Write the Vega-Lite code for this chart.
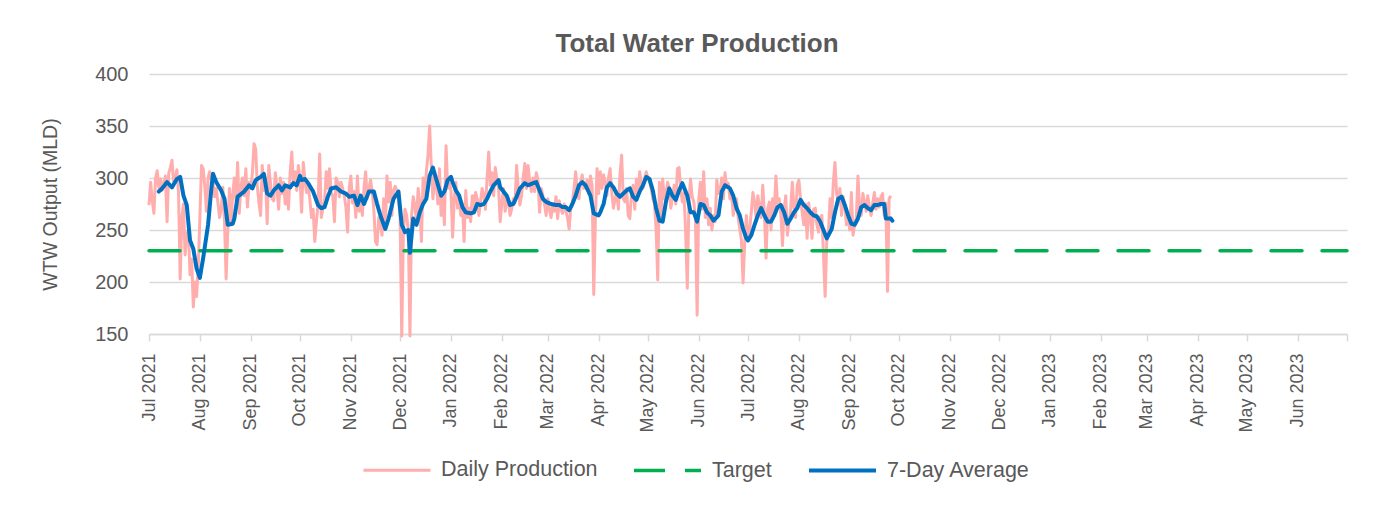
{
"$schema": "https://vega.github.io/schema/vega-lite/v6.json",
"width": 1198,
"height": 260,
"autosize": {"type": "none"},
"padding": {"left": 149, "top": 74, "right": 47, "bottom": 172},
"background": "white",
"title": {"text": "Total Water Production", "anchor": "middle", "frame": "group", "dx": -51, "offset": 7, "fontSize": 26, "font": "Liberation Sans", "fontWeight": "bold", "color": "#595959"},
"config": {
  "view": {"stroke": null},
  "font": "Liberation Sans",
  "axis": {"labelColor": "#595959", "titleColor": "#595959", "labelFont": "Liberation Sans", "titleFont": "Liberation Sans", "titleFontWeight": "normal"},
  "legend": {"orient": "none", "legendX": 213, "legendY": 361, "direction": "horizontal", "symbolType": "stroke", "symbolSize": 4489, "labelFontSize": 21.5, "labelColor": "#595959", "labelFont": "Liberation Sans", "labelLimit": 0, "columnPadding": 29, "labelOffset": 9}
},
"datasets": {
"target": [{"date": "2021-07-01", "mld": 230}, {"date": "2023-07-01", "mld": 230}],
"daily": [
{"date":"2021-07-01","mld":274},{"date":"2021-07-02","mld":296},{"date":"2021-07-03","mld":278},{"date":"2021-07-04","mld":266},{"date":"2021-07-05","mld":300},{"date":"2021-07-06","mld":307},{"date":"2021-07-07","mld":290},{"date":"2021-07-08","mld":299},{"date":"2021-07-09","mld":288},{"date":"2021-07-10","mld":295},{"date":"2021-07-11","mld":302},{"date":"2021-07-12","mld":258},{"date":"2021-07-13","mld":304},{"date":"2021-07-14","mld":310},{"date":"2021-07-15","mld":317},{"date":"2021-07-16","mld":296},{"date":"2021-07-17","mld":300},{"date":"2021-07-18","mld":308},{"date":"2021-07-19","mld":285},{"date":"2021-07-20","mld":203},{"date":"2021-07-21","mld":262},{"date":"2021-07-22","mld":275},{"date":"2021-07-23","mld":226},{"date":"2021-07-24","mld":245},{"date":"2021-07-25","mld":250},{"date":"2021-07-26","mld":207},{"date":"2021-07-27","mld":222},{"date":"2021-07-28","mld":176},{"date":"2021-07-29","mld":200},{"date":"2021-07-30","mld":186},{"date":"2021-07-31","mld":215},
{"date":"2021-08-01","mld":262},{"date":"2021-08-02","mld":312},{"date":"2021-08-03","mld":309},{"date":"2021-08-04","mld":292},{"date":"2021-08-05","mld":268},{"date":"2021-08-06","mld":300},{"date":"2021-08-07","mld":306},{"date":"2021-08-08","mld":298},{"date":"2021-08-09","mld":296},{"date":"2021-08-10","mld":282},{"date":"2021-08-11","mld":290},{"date":"2021-08-12","mld":276},{"date":"2021-08-13","mld":262},{"date":"2021-08-14","mld":270},{"date":"2021-08-15","mld":291},{"date":"2021-08-16","mld":258},{"date":"2021-08-17","mld":203},{"date":"2021-08-18","mld":248},{"date":"2021-08-19","mld":290},{"date":"2021-08-20","mld":256},{"date":"2021-08-21","mld":284},{"date":"2021-08-22","mld":300},{"date":"2021-08-23","mld":278},{"date":"2021-08-24","mld":315},{"date":"2021-08-25","mld":266},{"date":"2021-08-26","mld":292},{"date":"2021-08-27","mld":300},{"date":"2021-08-28","mld":283},{"date":"2021-08-29","mld":309},{"date":"2021-08-30","mld":272},{"date":"2021-08-31","mld":296},
{"date":"2021-09-01","mld":290},{"date":"2021-09-02","mld":305},{"date":"2021-09-03","mld":333},{"date":"2021-09-04","mld":328},{"date":"2021-09-05","mld":292},{"date":"2021-09-06","mld":276},{"date":"2021-09-07","mld":264},{"date":"2021-09-08","mld":312},{"date":"2021-09-09","mld":288},{"date":"2021-09-10","mld":300},{"date":"2021-09-11","mld":256},{"date":"2021-09-12","mld":312},{"date":"2021-09-13","mld":295},{"date":"2021-09-14","mld":280},{"date":"2021-09-15","mld":278},{"date":"2021-09-16","mld":305},{"date":"2021-09-17","mld":290},{"date":"2021-09-18","mld":270},{"date":"2021-09-19","mld":300},{"date":"2021-09-20","mld":285},{"date":"2021-09-21","mld":296},{"date":"2021-09-22","mld":275},{"date":"2021-09-23","mld":290},{"date":"2021-09-24","mld":270},{"date":"2021-09-25","mld":305},{"date":"2021-09-26","mld":325},{"date":"2021-09-27","mld":295},{"date":"2021-09-28","mld":306},{"date":"2021-09-29","mld":288},{"date":"2021-09-30","mld":312},
{"date":"2021-10-01","mld":300},{"date":"2021-10-02","mld":267},{"date":"2021-10-03","mld":315},{"date":"2021-10-04","mld":298},{"date":"2021-10-05","mld":286},{"date":"2021-10-06","mld":292},{"date":"2021-10-07","mld":280},{"date":"2021-10-08","mld":262},{"date":"2021-10-09","mld":270},{"date":"2021-10-10","mld":239},{"date":"2021-10-11","mld":258},{"date":"2021-10-12","mld":275},{"date":"2021-10-13","mld":323},{"date":"2021-10-14","mld":262},{"date":"2021-10-15","mld":271},{"date":"2021-10-16","mld":278},{"date":"2021-10-17","mld":306},{"date":"2021-10-18","mld":290},{"date":"2021-10-19","mld":309},{"date":"2021-10-20","mld":286},{"date":"2021-10-21","mld":283},{"date":"2021-10-22","mld":258},{"date":"2021-10-23","mld":300},{"date":"2021-10-24","mld":296},{"date":"2021-10-25","mld":282},{"date":"2021-10-26","mld":296},{"date":"2021-10-27","mld":290},{"date":"2021-10-28","mld":283},{"date":"2021-10-29","mld":272},{"date":"2021-10-30","mld":248},{"date":"2021-10-31","mld":290},
{"date":"2021-11-01","mld":302},{"date":"2021-11-02","mld":276},{"date":"2021-11-03","mld":287},{"date":"2021-11-04","mld":262},{"date":"2021-11-05","mld":302},{"date":"2021-11-06","mld":268},{"date":"2021-11-07","mld":280},{"date":"2021-11-08","mld":264},{"date":"2021-11-09","mld":290},{"date":"2021-11-10","mld":306},{"date":"2021-11-11","mld":280},{"date":"2021-11-12","mld":290},{"date":"2021-11-13","mld":298},{"date":"2021-11-14","mld":287},{"date":"2021-11-15","mld":270},{"date":"2021-11-16","mld":239},{"date":"2021-11-17","mld":236},{"date":"2021-11-18","mld":262},{"date":"2021-11-19","mld":258},{"date":"2021-11-20","mld":245},{"date":"2021-11-21","mld":280},{"date":"2021-11-22","mld":252},{"date":"2021-11-23","mld":302},{"date":"2021-11-24","mld":277},{"date":"2021-11-25","mld":296},{"date":"2021-11-26","mld":264},{"date":"2021-11-27","mld":288},{"date":"2021-11-28","mld":292},{"date":"2021-11-29","mld":288},{"date":"2021-11-30","mld":280},
{"date":"2021-12-01","mld":262},{"date":"2021-12-02","mld":148},{"date":"2021-12-03","mld":248},{"date":"2021-12-04","mld":270},{"date":"2021-12-05","mld":264},{"date":"2021-12-06","mld":250},{"date":"2021-12-07","mld":148},{"date":"2021-12-08","mld":264},{"date":"2021-12-09","mld":282},{"date":"2021-12-10","mld":274},{"date":"2021-12-11","mld":258},{"date":"2021-12-12","mld":290},{"date":"2021-12-13","mld":276},{"date":"2021-12-14","mld":239},{"date":"2021-12-15","mld":300},{"date":"2021-12-16","mld":280},{"date":"2021-12-17","mld":306},{"date":"2021-12-18","mld":322},{"date":"2021-12-19","mld":350},{"date":"2021-12-20","mld":312},{"date":"2021-12-21","mld":280},{"date":"2021-12-22","mld":300},{"date":"2021-12-23","mld":296},{"date":"2021-12-24","mld":275},{"date":"2021-12-25","mld":309},{"date":"2021-12-26","mld":264},{"date":"2021-12-27","mld":282},{"date":"2021-12-28","mld":255},{"date":"2021-12-29","mld":331},{"date":"2021-12-30","mld":290},{"date":"2021-12-31","mld":296},
{"date":"2022-01-01","mld":288},{"date":"2022-01-02","mld":243},{"date":"2022-01-03","mld":280},{"date":"2022-01-04","mld":296},{"date":"2022-01-05","mld":271},{"date":"2022-01-06","mld":282},{"date":"2022-01-07","mld":264},{"date":"2022-01-08","mld":275},{"date":"2022-01-09","mld":239},{"date":"2022-01-10","mld":288},{"date":"2022-01-11","mld":262},{"date":"2022-01-12","mld":271},{"date":"2022-01-13","mld":258},{"date":"2022-01-14","mld":283},{"date":"2022-01-15","mld":270},{"date":"2022-01-16","mld":286},{"date":"2022-01-17","mld":280},{"date":"2022-01-18","mld":264},{"date":"2022-01-19","mld":277},{"date":"2022-01-20","mld":290},{"date":"2022-01-21","mld":283},{"date":"2022-01-22","mld":270},{"date":"2022-01-23","mld":300},{"date":"2022-01-24","mld":325},{"date":"2022-01-25","mld":293},{"date":"2022-01-26","mld":305},{"date":"2022-01-27","mld":283},{"date":"2022-01-28","mld":310},{"date":"2022-01-29","mld":299},{"date":"2022-01-30","mld":290},{"date":"2022-01-31","mld":258},
{"date":"2022-02-01","mld":276},{"date":"2022-02-02","mld":290},{"date":"2022-02-03","mld":268},{"date":"2022-02-04","mld":277},{"date":"2022-02-05","mld":280},{"date":"2022-02-06","mld":264},{"date":"2022-02-07","mld":270},{"date":"2022-02-08","mld":280},{"date":"2022-02-09","mld":276},{"date":"2022-02-10","mld":312},{"date":"2022-02-11","mld":290},{"date":"2022-02-12","mld":274},{"date":"2022-02-13","mld":283},{"date":"2022-02-14","mld":300},{"date":"2022-02-15","mld":314},{"date":"2022-02-16","mld":290},{"date":"2022-02-17","mld":312},{"date":"2022-02-18","mld":296},{"date":"2022-02-19","mld":287},{"date":"2022-02-20","mld":300},{"date":"2022-02-21","mld":287},{"date":"2022-02-22","mld":305},{"date":"2022-02-23","mld":298},{"date":"2022-02-24","mld":267},{"date":"2022-02-25","mld":290},{"date":"2022-02-26","mld":283},{"date":"2022-02-27","mld":275},{"date":"2022-02-28","mld":264},
{"date":"2022-03-01","mld":280},{"date":"2022-03-02","mld":270},{"date":"2022-03-03","mld":262},{"date":"2022-03-04","mld":274},{"date":"2022-03-05","mld":268},{"date":"2022-03-06","mld":282},{"date":"2022-03-07","mld":261},{"date":"2022-03-08","mld":278},{"date":"2022-03-09","mld":270},{"date":"2022-03-10","mld":266},{"date":"2022-03-11","mld":275},{"date":"2022-03-12","mld":268},{"date":"2022-03-13","mld":262},{"date":"2022-03-14","mld":251},{"date":"2022-03-15","mld":272},{"date":"2022-03-16","mld":277},{"date":"2022-03-17","mld":290},{"date":"2022-03-18","mld":306},{"date":"2022-03-19","mld":285},{"date":"2022-03-20","mld":280},{"date":"2022-03-21","mld":296},{"date":"2022-03-22","mld":303},{"date":"2022-03-23","mld":290},{"date":"2022-03-24","mld":292},{"date":"2022-03-25","mld":298},{"date":"2022-03-26","mld":285},{"date":"2022-03-27","mld":302},{"date":"2022-03-28","mld":293},{"date":"2022-03-29","mld":188},{"date":"2022-03-30","mld":260},{"date":"2022-03-31","mld":309},
{"date":"2022-04-01","mld":285},{"date":"2022-04-02","mld":306},{"date":"2022-04-03","mld":290},{"date":"2022-04-04","mld":303},{"date":"2022-04-05","mld":296},{"date":"2022-04-06","mld":283},{"date":"2022-04-07","mld":300},{"date":"2022-04-08","mld":309},{"date":"2022-04-09","mld":286},{"date":"2022-04-10","mld":271},{"date":"2022-04-11","mld":280},{"date":"2022-04-12","mld":287},{"date":"2022-04-13","mld":270},{"date":"2022-04-14","mld":303},{"date":"2022-04-15","mld":322},{"date":"2022-04-16","mld":280},{"date":"2022-04-17","mld":277},{"date":"2022-04-18","mld":290},{"date":"2022-04-19","mld":264},{"date":"2022-04-20","mld":261},{"date":"2022-04-21","mld":285},{"date":"2022-04-22","mld":293},{"date":"2022-04-23","mld":270},{"date":"2022-04-24","mld":299},{"date":"2022-04-25","mld":285},{"date":"2022-04-26","mld":306},{"date":"2022-04-27","mld":295},{"date":"2022-04-28","mld":290},{"date":"2022-04-29","mld":300},{"date":"2022-04-30","mld":306},
{"date":"2022-05-01","mld":300},{"date":"2022-05-02","mld":296},{"date":"2022-05-03","mld":290},{"date":"2022-05-04","mld":280},{"date":"2022-05-05","mld":275},{"date":"2022-05-06","mld":251},{"date":"2022-05-07","mld":202},{"date":"2022-05-08","mld":296},{"date":"2022-05-09","mld":262},{"date":"2022-05-10","mld":299},{"date":"2022-05-11","mld":280},{"date":"2022-05-12","mld":285},{"date":"2022-05-13","mld":296},{"date":"2022-05-14","mld":290},{"date":"2022-05-15","mld":271},{"date":"2022-05-16","mld":282},{"date":"2022-05-17","mld":293},{"date":"2022-05-18","mld":275},{"date":"2022-05-19","mld":309},{"date":"2022-05-20","mld":310},{"date":"2022-05-21","mld":290},{"date":"2022-05-22","mld":277},{"date":"2022-05-23","mld":285},{"date":"2022-05-24","mld":248},{"date":"2022-05-25","mld":194},{"date":"2022-05-26","mld":277},{"date":"2022-05-27","mld":299},{"date":"2022-05-28","mld":282},{"date":"2022-05-29","mld":277},{"date":"2022-05-30","mld":260},{"date":"2022-05-31","mld":168},
{"date":"2022-06-01","mld":280},{"date":"2022-06-02","mld":296},{"date":"2022-06-03","mld":270},{"date":"2022-06-04","mld":306},{"date":"2022-06-05","mld":262},{"date":"2022-06-06","mld":280},{"date":"2022-06-07","mld":255},{"date":"2022-06-08","mld":271},{"date":"2022-06-09","mld":250},{"date":"2022-06-10","mld":264},{"date":"2022-06-11","mld":258},{"date":"2022-06-12","mld":298},{"date":"2022-06-13","mld":285},{"date":"2022-06-14","mld":287},{"date":"2022-06-15","mld":300},{"date":"2022-06-16","mld":280},{"date":"2022-06-17","mld":305},{"date":"2022-06-18","mld":291},{"date":"2022-06-19","mld":295},{"date":"2022-06-20","mld":280},{"date":"2022-06-21","mld":285},{"date":"2022-06-22","mld":264},{"date":"2022-06-23","mld":272},{"date":"2022-06-24","mld":280},{"date":"2022-06-25","mld":262},{"date":"2022-06-26","mld":251},{"date":"2022-06-27","mld":240},{"date":"2022-06-28","mld":199},{"date":"2022-06-29","mld":238},{"date":"2022-06-30","mld":264},
{"date":"2022-07-01","mld":241},{"date":"2022-07-02","mld":250},{"date":"2022-07-03","mld":267},{"date":"2022-07-04","mld":286},{"date":"2022-07-05","mld":277},{"date":"2022-07-06","mld":260},{"date":"2022-07-07","mld":283},{"date":"2022-07-08","mld":271},{"date":"2022-07-09","mld":262},{"date":"2022-07-10","mld":293},{"date":"2022-07-11","mld":265},{"date":"2022-07-12","mld":223},{"date":"2022-07-13","mld":270},{"date":"2022-07-14","mld":277},{"date":"2022-07-15","mld":250},{"date":"2022-07-16","mld":280},{"date":"2022-07-17","mld":268},{"date":"2022-07-18","mld":302},{"date":"2022-07-19","mld":275},{"date":"2022-07-20","mld":280},{"date":"2022-07-21","mld":266},{"date":"2022-07-22","mld":235},{"date":"2022-07-23","mld":270},{"date":"2022-07-24","mld":283},{"date":"2022-07-25","mld":245},{"date":"2022-07-26","mld":258},{"date":"2022-07-27","mld":270},{"date":"2022-07-28","mld":296},{"date":"2022-07-29","mld":271},{"date":"2022-07-30","mld":262},{"date":"2022-07-31","mld":293},
{"date":"2022-08-01","mld":298},{"date":"2022-08-02","mld":280},{"date":"2022-08-03","mld":267},{"date":"2022-08-04","mld":255},{"date":"2022-08-05","mld":275},{"date":"2022-08-06","mld":242},{"date":"2022-08-07","mld":276},{"date":"2022-08-08","mld":262},{"date":"2022-08-09","mld":242},{"date":"2022-08-10","mld":270},{"date":"2022-08-11","mld":271},{"date":"2022-08-12","mld":255},{"date":"2022-08-13","mld":248},{"date":"2022-08-14","mld":262},{"date":"2022-08-15","mld":264},{"date":"2022-08-16","mld":226},{"date":"2022-08-17","mld":186},{"date":"2022-08-18","mld":240},{"date":"2022-08-19","mld":248},{"date":"2022-08-20","mld":280},{"date":"2022-08-21","mld":262},{"date":"2022-08-22","mld":296},{"date":"2022-08-23","mld":315},{"date":"2022-08-24","mld":285},{"date":"2022-08-25","mld":277},{"date":"2022-08-26","mld":290},{"date":"2022-08-27","mld":264},{"date":"2022-08-28","mld":282},{"date":"2022-08-29","mld":274},{"date":"2022-08-30","mld":255},{"date":"2022-08-31","mld":264},
{"date":"2022-09-01","mld":250},{"date":"2022-09-02","mld":286},{"date":"2022-09-03","mld":245},{"date":"2022-09-04","mld":255},{"date":"2022-09-05","mld":262},{"date":"2022-09-06","mld":302},{"date":"2022-09-07","mld":270},{"date":"2022-09-08","mld":264},{"date":"2022-09-09","mld":285},{"date":"2022-09-10","mld":277},{"date":"2022-09-11","mld":268},{"date":"2022-09-12","mld":283},{"date":"2022-09-13","mld":272},{"date":"2022-09-14","mld":264},{"date":"2022-09-15","mld":276},{"date":"2022-09-16","mld":286},{"date":"2022-09-17","mld":270},{"date":"2022-09-18","mld":280},{"date":"2022-09-19","mld":272},{"date":"2022-09-20","mld":282},{"date":"2022-09-21","mld":285},{"date":"2022-09-22","mld":264},{"date":"2022-09-23","mld":276},{"date":"2022-09-24","mld":191},{"date":"2022-09-25","mld":280},{"date":"2022-09-26","mld":283}
],
"avg": [
{"date":"2021-07-07","mld":287},{"date":"2021-07-09","mld":290},{"date":"2021-07-12","mld":296},{"date":"2021-07-15","mld":291},{"date":"2021-07-18","mld":299},{"date":"2021-07-20","mld":301},{"date":"2021-07-22","mld":283},{"date":"2021-07-24","mld":274},{"date":"2021-07-26","mld":240},{"date":"2021-07-28","mld":232},{"date":"2021-07-30","mld":213},{"date":"2021-08-01","mld":204},{"date":"2021-08-03","mld":223},{"date":"2021-08-06","mld":255},{"date":"2021-08-08","mld":290},{"date":"2021-08-09","mld":304},{"date":"2021-08-11","mld":296},{"date":"2021-08-14","mld":288},{"date":"2021-08-16","mld":280},{"date":"2021-08-18","mld":255},{"date":"2021-08-21","mld":256},{"date":"2021-08-22","mld":261},{"date":"2021-08-24","mld":282},{"date":"2021-08-28","mld":287},{"date":"2021-08-31","mld":293},
{"date":"2021-09-02","mld":290},{"date":"2021-09-04","mld":298},{"date":"2021-09-07","mld":301},{"date":"2021-09-09","mld":304},{"date":"2021-09-11","mld":285},{"date":"2021-09-13","mld":283},{"date":"2021-09-15","mld":288},{"date":"2021-09-18","mld":293},{"date":"2021-09-20","mld":288},{"date":"2021-09-22","mld":293},{"date":"2021-09-25","mld":291},{"date":"2021-09-27","mld":295},{"date":"2021-09-29","mld":293},
{"date":"2021-10-01","mld":302},{"date":"2021-10-02","mld":298},{"date":"2021-10-04","mld":299},{"date":"2021-10-06","mld":295},{"date":"2021-10-09","mld":287},{"date":"2021-10-12","mld":274},{"date":"2021-10-14","mld":271},{"date":"2021-10-16","mld":272},{"date":"2021-10-18","mld":282},{"date":"2021-10-20","mld":290},{"date":"2021-10-23","mld":291},{"date":"2021-10-26","mld":287},{"date":"2021-10-29","mld":285},{"date":"2021-10-31","mld":282},
{"date":"2021-11-03","mld":283},{"date":"2021-11-05","mld":274},{"date":"2021-11-07","mld":283},{"date":"2021-11-09","mld":275},{"date":"2021-11-12","mld":287},{"date":"2021-11-15","mld":287},{"date":"2021-11-17","mld":275},{"date":"2021-11-19","mld":264},{"date":"2021-11-22","mld":251},{"date":"2021-11-24","mld":261},{"date":"2021-11-27","mld":280},{"date":"2021-11-30","mld":287},
{"date":"2021-12-02","mld":255},{"date":"2021-12-04","mld":248},{"date":"2021-12-06","mld":250},{"date":"2021-12-07","mld":228},{"date":"2021-12-09","mld":261},{"date":"2021-12-11","mld":255},{"date":"2021-12-13","mld":267},{"date":"2021-12-15","mld":275},{"date":"2021-12-17","mld":280},{"date":"2021-12-19","mld":302},{"date":"2021-12-21","mld":310},{"date":"2021-12-23","mld":299},{"date":"2021-12-26","mld":283},{"date":"2021-12-28","mld":287},{"date":"2021-12-30","mld":298},
{"date":"2022-01-01","mld":301},{"date":"2022-01-02","mld":296},{"date":"2022-01-04","mld":288},{"date":"2022-01-06","mld":283},{"date":"2022-01-08","mld":272},{"date":"2022-01-10","mld":267},{"date":"2022-01-13","mld":266},{"date":"2022-01-15","mld":267},{"date":"2022-01-17","mld":275},{"date":"2022-01-19","mld":274},{"date":"2022-01-21","mld":275},{"date":"2022-01-23","mld":280},{"date":"2022-01-25","mld":287},{"date":"2022-01-27","mld":293},{"date":"2022-01-30","mld":298},{"date":"2022-01-31","mld":291},
{"date":"2022-02-02","mld":287},{"date":"2022-02-04","mld":283},{"date":"2022-02-06","mld":274},{"date":"2022-02-08","mld":275},{"date":"2022-02-10","mld":282},{"date":"2022-02-12","mld":290},{"date":"2022-02-15","mld":295},{"date":"2022-02-17","mld":293},{"date":"2022-02-20","mld":295},{"date":"2022-02-22","mld":296},{"date":"2022-02-24","mld":288},{"date":"2022-02-26","mld":280},{"date":"2022-02-28","mld":277},
{"date":"2022-03-03","mld":275},{"date":"2022-03-06","mld":274},{"date":"2022-03-08","mld":274},{"date":"2022-03-10","mld":272},{"date":"2022-03-12","mld":272},{"date":"2022-03-14","mld":269},{"date":"2022-03-16","mld":275},{"date":"2022-03-18","mld":283},{"date":"2022-03-20","mld":293},{"date":"2022-03-22","mld":296},{"date":"2022-03-24","mld":293},{"date":"2022-03-27","mld":283},{"date":"2022-03-29","mld":266},
{"date":"2022-04-01","mld":264},{"date":"2022-04-02","mld":267},{"date":"2022-04-04","mld":275},{"date":"2022-04-06","mld":291},{"date":"2022-04-08","mld":295},{"date":"2022-04-10","mld":291},{"date":"2022-04-12","mld":285},{"date":"2022-04-14","mld":282},{"date":"2022-04-16","mld":285},{"date":"2022-04-18","mld":288},{"date":"2022-04-20","mld":290},{"date":"2022-04-22","mld":282},{"date":"2022-04-24","mld":279},{"date":"2022-04-26","mld":287},{"date":"2022-04-28","mld":293},{"date":"2022-04-30","mld":301},
{"date":"2022-05-02","mld":299},{"date":"2022-05-04","mld":288},{"date":"2022-05-06","mld":271},{"date":"2022-05-08","mld":259},{"date":"2022-05-10","mld":258},{"date":"2022-05-12","mld":277},{"date":"2022-05-14","mld":290},{"date":"2022-05-16","mld":283},{"date":"2022-05-18","mld":279},{"date":"2022-05-20","mld":288},{"date":"2022-05-22","mld":295},{"date":"2022-05-25","mld":283},{"date":"2022-05-27","mld":267},{"date":"2022-05-29","mld":267},{"date":"2022-05-31","mld":258},
{"date":"2022-06-02","mld":275},{"date":"2022-06-04","mld":274},{"date":"2022-06-06","mld":267},{"date":"2022-06-08","mld":264},{"date":"2022-06-10","mld":259},{"date":"2022-06-13","mld":264},{"date":"2022-06-15","mld":287},{"date":"2022-06-17","mld":293},{"date":"2022-06-20","mld":290},{"date":"2022-06-22","mld":283},{"date":"2022-06-24","mld":271},{"date":"2022-06-26","mld":264},{"date":"2022-06-28","mld":251},{"date":"2022-06-30","mld":242},
{"date":"2022-07-01","mld":240},{"date":"2022-07-03","mld":245},{"date":"2022-07-05","mld":255},{"date":"2022-07-07","mld":264},{"date":"2022-07-09","mld":271},{"date":"2022-07-11","mld":264},{"date":"2022-07-13","mld":258},{"date":"2022-07-15","mld":258},{"date":"2022-07-17","mld":264},{"date":"2022-07-19","mld":272},{"date":"2022-07-21","mld":274},{"date":"2022-07-23","mld":267},{"date":"2022-07-25","mld":256},{"date":"2022-07-27","mld":261},{"date":"2022-07-29","mld":267},{"date":"2022-07-31","mld":271},
{"date":"2022-08-02","mld":279},{"date":"2022-08-04","mld":274},{"date":"2022-08-06","mld":271},{"date":"2022-08-08","mld":267},{"date":"2022-08-10","mld":264},{"date":"2022-08-12","mld":263},{"date":"2022-08-14","mld":258},{"date":"2022-08-16","mld":250},{"date":"2022-08-18","mld":242},{"date":"2022-08-21","mld":251},{"date":"2022-08-23","mld":267},{"date":"2022-08-25","mld":280},{"date":"2022-08-27","mld":282},{"date":"2022-08-29","mld":274},{"date":"2022-08-31","mld":264},
{"date":"2022-09-02","mld":256},{"date":"2022-09-04","mld":255},{"date":"2022-09-06","mld":261},{"date":"2022-09-08","mld":272},{"date":"2022-09-10","mld":274},{"date":"2022-09-12","mld":271},{"date":"2022-09-14","mld":269},{"date":"2022-09-16","mld":274},{"date":"2022-09-18","mld":274},{"date":"2022-09-20","mld":275},{"date":"2022-09-22","mld":275},{"date":"2022-09-23","mld":261},{"date":"2022-09-26","mld":261},{"date":"2022-09-27","mld":259}
]
},
"encoding": {
  "x": {"field": "date", "type": "temporal",
    "scale": {"type": "utc", "domain": [{"year": 2021, "month": 7, "date": 1, "utc": true}, {"year": 2023, "month": 7, "date": 1, "utc": true}]},
    "axis": {"title": null, "tickCount": {"interval": "month", "step": 1}, "format": "%b %Y", "labelAngle": 270, "labelFontSize": 18, "labelPadding": 12, "tickSize": 7, "tickColor": "#d9d9d9", "tickWidth": 1.5, "domainColor": "#d9d9d9", "domainWidth": 1.5, "grid": false, "labelOverlap": false, "labelFlush": false, "labelExpr": "utcyear(datum.value) == 2023 && utcmonth(datum.value) == 6 ? '' : datum.label"}},
  "y": {"field": "mld", "type": "quantitative",
    "scale": {"domain": [150, 400], "nice": false, "zero": false},
    "axis": {"title": "WTW Output (MLD)", "values": [150, 200, 250, 300, 350, 400], "grid": true, "gridColor": "#d9d9d9", "gridWidth": 1.5, "domain": false, "ticks": false, "labelPadding": 21, "labelFontSize": 20, "titleFontSize": 19.5, "titlePadding": 34}}
},
"layer": [
  {"data": {"name": "daily"}, "mark": {"type": "line", "strokeJoin": "round"},
   "encoding": {
     "color": {"datum": "Daily Production", "type": "nominal", "scale": {"domain": ["Daily Production", "Target", "7-Day Average"], "range": ["#FFADAD", "#00B050", "#0070C0"]}, "legend": {"title": null}},
     "strokeDash": {"datum": "Daily Production", "type": "nominal", "scale": {"domain": ["Daily Production", "Target", "7-Day Average"], "range": [[1, 0], [31, 20], [1, 0]]}, "legend": {"title": null}},
     "strokeWidth": {"datum": "Daily Production", "type": "nominal", "scale": {"domain": ["Daily Production", "Target", "7-Day Average"], "range": [3, 4, 5.5]}, "legend": {"title": null}}
   }},
  {"data": {"name": "target"}, "mark": {"type": "line", "strokeCap": "round"},
   "encoding": {
     "color": {"datum": "Target", "type": "nominal"},
     "strokeDash": {"datum": "Target", "type": "nominal"},
     "strokeWidth": {"datum": "Target", "type": "nominal"}
   }},
  {"data": {"name": "avg"}, "mark": {"type": "line", "strokeJoin": "round", "strokeCap": "round"},
   "encoding": {
     "color": {"datum": "7-Day Average", "type": "nominal"},
     "strokeDash": {"datum": "7-Day Average", "type": "nominal"},
     "strokeWidth": {"datum": "7-Day Average", "type": "nominal"}
   }}
]
}
